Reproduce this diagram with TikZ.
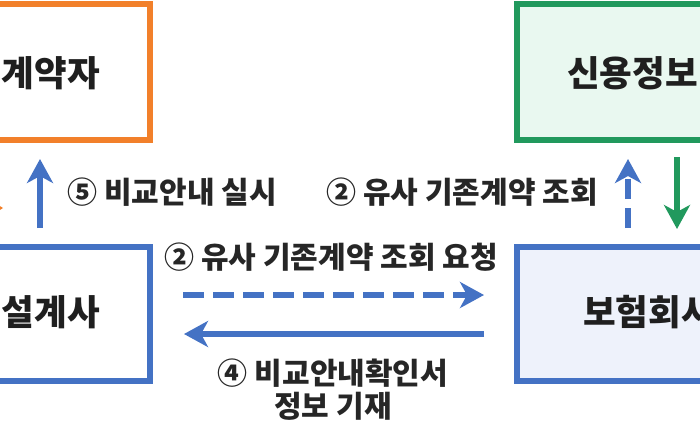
\documentclass[tikz,border=0pt]{standalone}
\usepackage{fontspec}
\setmainfont{Noto Sans CJK KR}
\usetikzlibrary{arrows.meta}
\definecolor{cblue}{RGB}{68,114,196}
\definecolor{corange}{RGB}{242,128,42}
\definecolor{cgreen}{RGB}{33,153,93}
\definecolor{gfill}{RGB}{233,248,240}
\definecolor{bfill}{RGB}{238,242,251}
\tikzset{
  boxnode/.style={draw, line width=6pt, inner sep=0pt, outer sep=0pt},
  boxtext/.style={font=\fontsize{35.5}{40}\selectfont\bfseries, inner sep=0pt, text=black!88},
  lbl/.style={font=\fontsize{30}{33}\selectfont\bfseries, inner sep=0pt, text=black!85, align=center},
  arr/.style={line width=5.5pt, -{Stealth[length=24pt, width=26pt, inset=7pt]}},
}
\begin{document}
\begin{tikzpicture}[x=1pt, y=-1pt]
\useasboundingbox (0,0) rectangle (700,440);
\clip (0,0) rectangle (700,440);
% boxes
\node[boxnode, draw=corange, fill=white, minimum width=270pt, minimum height=136.5pt] (contr) at (15,71.75) {};
\node[boxnode, draw=cgreen, fill=gfill, minimum width=303pt, minimum height=136.5pt] (credit) at (668,71.75) {};
\node[boxnode, draw=cblue, fill=white, minimum width=270pt, minimum height=134pt] (plan) at (15,314) {};
\node[boxnode, draw=cblue, fill=bfill, minimum width=303pt, minimum height=134pt] (insur) at (668,314) {};
% box texts
\node[boxtext, anchor=east] (t1) at (100,73) {계약자};
\node[boxtext, anchor=west] (t2) at (567,73) {신용정보};
\node[boxtext, anchor=east] (t3) at (100,312) {설계사};
\node[boxtext, anchor=west] (t4) at (583,312) {보험회사};
% partial orange tip at left edge
\fill[corange] (-8,201) -- (3,208) -- (-8,215) -- cycle;
% connector end points
\coordinate (a5s) at (40,228);
\coordinate (a5e) at (40,159);
\coordinate (a2s) at (628,228);
\coordinate (a2e) at (628,159);
\coordinate (g1s) at (677,157);
\coordinate (g1e) at (677,229);
\coordinate (h1s) at (183,295);
\coordinate (h1e) at (484,295);
\coordinate (h2s) at (484,334);
\coordinate (h2e) at (184,334);
% arrows
\draw[arr, cblue] (a5s) -- (a5e);
\draw[arr, cblue, dash pattern=on 20pt off 9pt] (a2s) -- (a2e);
\draw[arr, cgreen] (g1s) -- (g1e);
\draw[arr, cblue, dash pattern=on 21pt off 9pt] (h1s) -- (h1e);
\draw[arr, cblue] (h2s) -- (h2e);
% labels
\node[lbl] (l5) at (172,192) {⑤ 비교안내 실시};
\node[lbl] (l2a) at (462,192) {② 유사 기존계약 조회};
\node[lbl] (l2b) at (331,257) {② 유사 기존계약 조회 요청};
\node[lbl] (l4) at (333,390) {④ 비교안내확인서\\정보 기재};
\end{tikzpicture}
\end{document}
